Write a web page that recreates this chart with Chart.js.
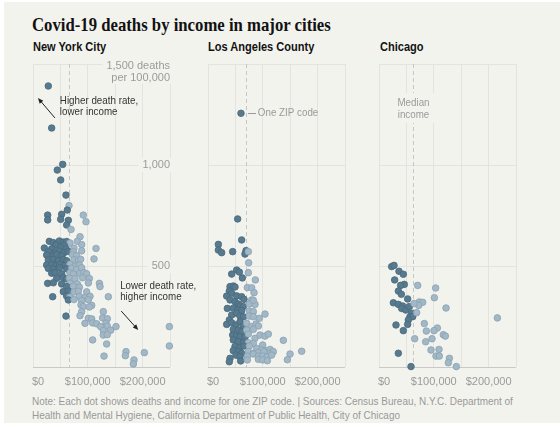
<!DOCTYPE html>
<html lang="en">
<head>
  <meta charset="UTF-8">
  <title>Covid-19 deaths by income in major cities</title>
  <style>
    body {
      margin: 0;
      width: 560px;
      height: 427px;
      overflow: hidden;
      position: relative;
      background: #fff;
      font-family: "Liberation Sans", Arial, sans-serif;
    }
    .card {
      position: absolute;
      left: 4px; top: 2px;
      width: 556px; height: 421px;
      background: #f3f3ee;
    }
    .title {
      position: absolute;
      left: 32px; top: 15px;
      font: bold 19px/19px "Liberation Serif", serif;
      color: #121212;
      white-space: nowrap;
      transform: scaleX(0.88);
      transform-origin: left top;
    }
    .panel-title {
      position: absolute;
      top: 41px;
      font: bold 12px/12px "Liberation Sans", Arial, sans-serif;
      color: #121212;
      white-space: nowrap;
      transform: scaleX(0.92);
      transform-origin: left top;
    }
    .panel {
      position: absolute;
      top: 52px;
    }
    .note {
      position: absolute;
      left: 32px; top: 395px;
      font: 11px/13.5px "Liberation Sans", Arial, sans-serif;
      color: #999;
      white-space: nowrap;
      transform: scaleX(0.905);
      transform-origin: left top;
    }
  </style>
</head>
<body>
  <div class="card"></div>
  <div class="title">Covid-19 deaths by income in major cities</div>
  <div class="panel-title" style="left:33px">New York City</div>
  <div class="panel-title" style="left:208px">Los Angeles County</div>
  <div class="panel-title" style="left:380px">Chicago</div>

  <div class="panel" style="left:9px"><canvas id="nyc" width="206" height="339"></canvas></div>
  <div class="panel" style="left:184px"><canvas id="la" width="206" height="339"></canvas></div>
  <div class="panel" style="left:355px"><canvas id="chi" width="206" height="339"></canvas></div>

  <div class="note">Note: Each dot shows deaths and income for one ZIP code. | Sources: Census Bureau, N.Y.C. Department of<br>Health and Mental Hygiene, California Department of Public Health, City of Chicago</div>

  <script src="https://cdn.jsdelivr.net/npm/chart.js@4.4.1/dist/chart.umd.min.js"></script>
  <script>
    // [median household income in $ thousands, deaths per 100,000]
    const NYC_POINTS = [
      [27.9,1391],[34.1,1183],[54.2,1003],[44.3,975],[50.5,926],[60.2,851],[65.7,799],[62.6,777],
      [26.8,752],[52.3,756],[91.8,752],[26.8,728],[50.5,731],[64.5,726],[96.7,719],
      [61.4,703],[69.4,681],[85.8,645],
      [29.8,622],[37.1,616],[48.1,624],[55.4,618],[61.4,621],[67.5,614],[80.9,622],
      [42.0,604],[57.2,601],[88.8,606],
      [20.7,589],[34.1,585],[50.5,590],[60.2,584],[74.8,588],[115.0,587],
      [28.0,571],[41.4,569],[48.1,574],[56.6,566],[64.5,572],[73.6,570],[88.8,575],
      [24.9,554],[37.1,551],[43.2,556],[52.3,549],[72.4,556],[79.7,552],
      [28.0,530],[37.1,533],[46.2,527],[55.4,532],[61.4,526],[74.8,531],[82.7,528],[87.0,533],[111.3,535],
      [24.9,505],[34.1,508],[42.0,502],[49.3,507],[58.4,503],[67.5,509],[76.6,500],[84.6,505],
      [28.0,488],[37.1,485],[48.1,490],[61.4,486],[70.6,489],[79.7,484],[88.8,491],
      [34.1,464],[40.1,467],[52.3,461],[67.5,466],[73.6,460],[85.8,463],[93.1,467],[97.9,461],
      [43.2,439],[55.4,442],[61.4,436],[66.3,440],[76.6,437],[90.6,442],[102.8,438],
      [26.8,414],[37.1,417],[52.3,411],[67.5,415],[80.9,412],[101.0,416],[121.1,414],
      [61.4,398],[73.6,400],[84.6,395],[122.3,398],
      [55.4,373],[64.5,376],[74.8,371],[82.7,375],[97.9,372],
      [35.9,348],[61.4,351],[67.5,346],[84.6,349],[94.9,345],[104.0,350],[137.5,348],
      [64.5,332],[74.8,334],[88.8,329],[101.0,333],
      [87.6,307],[107.1,305],[91.8,299],[102.8,297],
      [88.8,274],[128.3,274],[60.2,252],[85.8,254],
      [101.0,241],[107.1,238],[127.1,243],[135.6,239],
      [94.9,216],[108.9,218],[116.2,214],[133.2,217],
      [123.5,200],[135.6,202],[151.5,200],[248.8,200],
      [128.3,180],[141.7,182],[128.3,158],[135.6,160],
      [108.9,134],[134.4,114],[248.8,104],
      [169.7,76],[203.2,71],[129.6,54],[168.5,56],[184.3,35],[183.1,15]
    ];
    const LA_POINTS = [
      [60.2,1256],[54.1,733],[61.4,629],[18.9,607],[18.9,579],[24.9,566],[45.0,571],
      [69.4,576],[67.5,559],[73.6,571],[74.2,516],
      [52.3,480],[57.2,470],[43.2,460],[62.7,441],[73.6,467],[86.4,431],
      [40.2,398],[46.2,401],[49.3,396],[71.8,393],[79.7,392],
      [38.9,376],[43.2,365],[34.1,351],[52.3,352],[61.4,348],[65.7,335],[84.0,368],[79.7,332],
      [40.2,332],[49.3,323],[55.4,312],[58.4,302],[64.5,299],[75.4,312],[85.8,310],[82.7,330],
      [35.3,290],[46.2,291],[54.1,282],[61.4,279],[75.4,277],[82.7,274],[104.0,262],
      [43.2,257],[52.3,266],[58.4,252],[64.5,249],[75.4,252],[82.7,249],[93.7,241],
      [38.9,233],[34.1,211],[43.2,219],[51.1,208],[58.4,224],[64.5,203],
      [70.6,216],[79.7,200],[87.6,213],[91.9,203],
      [46.2,186],[55.4,183],[61.4,175],[70.6,183],[82.7,186],
      [45.0,158],[52.3,153],[58.4,150],[67.5,147],[73.6,163],[85.8,142],[94.9,158],[104.0,153],[110.1,163],[137.5,132],
      [46.2,134],[55.4,125],[64.5,120],[73.6,120],[82.7,117],[99.8,109],
      [49.3,101],[58.4,96],[65.7,104],[75.4,104],[88.8,92],[97.9,84],[107.1,81],[113.2,87],
      [46.2,81],[55.4,76],[61.4,68],[73.6,76],[82.7,68],[91.9,71],[102.2,76],[113.2,68],[119.2,76],[149.7,64],[170.9,78],
      [51.1,59],[58.4,51],[71.8,54],[82.7,64],[91.9,54],[99.8,54],[108.3,51],[116.2,59],
      [40.2,43],[38.9,26],[59.6,30],[71.8,35],[91.9,38],[99.8,35],[108.3,31],[144.8,36]
    ];
    const CHI_POINTS = [
      [23.1,497],[27.4,503],[36.5,474],[44.4,459],[28.6,431],[46.2,409],[39.5,404],
      [35.3,376],[40.8,360],[52.3,337],[26.2,318],[35.3,310],[43.2,302],[41.4,290],
      [48.7,282],[55.4,299],[59.6,266],[56.6,249],[61.5,249],[53.5,233],[52.3,211],
      [31.0,208],[44.4,180],[35.3,68],[58.4,2],
      [70.6,404],[103.4,391],[101.0,343],[73.6,322],[79.7,320],[72.4,305],[63.9,314],
      [68.7,269],[122.3,292],[216.0,243],[82.7,215],[106.5,193],[100.4,180],[86.4,178],
      [65.1,140],[96.7,140],[85.2,125],[117.4,160],[121.1,153],[94.9,84],[109.5,87],
      [104.0,54],[110.1,54],[128.4,43],[126.5,21],[141.1,2]
    ];
    const MEDIANS = { nyc: 65.5, la: 70.2, chi: 62.5 };

    const X_TICKS = [0, 100, 200];
    const X_TICK_LABELS = ['$0', '$100,000', '$200,000'];
    const Y_TICKS = [500, 1000];
    const Y_TICK_LABELS = ['500', '1,000'];
    const Y_TOP_LABEL = ['1,500 deaths', 'per 100,000'];

    const BG = '#f3f3ee';
    const DARK = '#587a8e', DARK_EDGE = '#48697d';
    const LIGHT = '#a3b8c6', LIGHT_EDGE = '#88a1b2';
    const FONT = '11px "Liberation Sans", Arial, sans-serif';

    // narrow text, same height
    function narrowText(ctx, text, x, y, align) {
      const k = 0.89;
      ctx.save();
      ctx.translate(x, y);
      ctx.scale(k, 1);
      ctx.textAlign = align || 'left';
      ctx.fillText(text, 0, 0);
      ctx.restore();
    }

    function arrow(ctx, x1, y1, x2, y2) {
      const ang = Math.atan2(y2 - y1, x2 - x1);
      ctx.beginPath();
      ctx.moveTo(x1, y1);
      ctx.lineTo(x2 - 3 * Math.cos(ang), y2 - 3 * Math.sin(ang));
      ctx.stroke();
      ctx.beginPath();
      ctx.moveTo(x2, y2);
      ctx.lineTo(x2 - 6 * Math.cos(ang - 0.4), y2 - 6 * Math.sin(ang - 0.4));
      ctx.lineTo(x2 - 6 * Math.cos(ang + 0.4), y2 - 6 * Math.sin(ang + 0.4));
      ctx.closePath();
      ctx.fill();
    }

    const decor = {
      id: 'decor',
      beforeDatasetsDraw(chart, args, o) {
        const { ctx, chartArea: a, scales: { x, y } } = chart;
        ctx.save();
        ctx.font = FONT;
        ctx.textBaseline = 'middle';

        // median line
        const mx = Math.round(x.getPixelForValue(o.median)) + 0.5;
        ctx.strokeStyle = '#c6c6c4';
        ctx.lineWidth = 1;
        ctx.setLineDash([4, 3]);
        ctx.beginPath();
        ctx.moveTo(mx, a.top);
        ctx.lineTo(mx, a.bottom);
        ctx.stroke();
        ctx.setLineDash([]);

        // x labels
        ctx.fillStyle = '#9a9a9a';
        X_TICKS.forEach((v, i) => {
          const px = x.getPixelForValue(v);
          ctx.textAlign = i === 0 ? 'left' : 'center';
          ctx.fillText(X_TICK_LABELS[i], i === 0 ? px - 1 : px, a.bottom + 15);
        });

        // y labels (first panel only)
        if (o.yLabels) {
          ctx.textAlign = 'right';
          Y_TICKS.forEach((v, i) => {
            const py = y.getPixelForValue(v);
            const w = ctx.measureText(Y_TICK_LABELS[i]).width;
            ctx.fillStyle = BG;
            ctx.fillRect(a.right - w - 4, py - 7, w + 6, 14);
            ctx.fillStyle = '#9a9a9a';
            ctx.fillText(Y_TICK_LABELS[i], a.right, py);
          });
          const top = y.getPixelForValue(1500);
          const w = Math.max(...Y_TOP_LABEL.map(t => ctx.measureText(t).width));
          ctx.fillStyle = BG;
          ctx.fillRect(a.right - w - 4, top - 6, w + 6, 26);
          ctx.fillStyle = '#9a9a9a';
          Y_TOP_LABEL.forEach((t, i) => ctx.fillText(t, a.right, top + 2 + i * 12));
        }

        // median label box
        if (o.medianLabel) {
          const y1 = y.getPixelForValue(o.medianLabel.y);
          ctx.fillStyle = BG;
          ctx.fillRect(mx - 26, y1 - 10, 52, 30);
          ctx.fillStyle = '#9a9a9a';
          o.medianLabel.lines.forEach((t, i) => narrowText(ctx, t, mx, y1 + i * 12, 'center'));
        }

        // notes
        (o.notes || []).forEach(n => {
          ctx.fillStyle = n.color;
          narrowText(ctx, n.text, x.getPixelForValue(n.x), y.getPixelForValue(n.y));
        });

        // arrows
        ctx.strokeStyle = '#222';
        ctx.fillStyle = '#222';
        ctx.lineWidth = 1;
        (o.arrows || []).forEach(r => {
          arrow(ctx, x.getPixelForValue(r[0]), y.getPixelForValue(r[1]),
                     x.getPixelForValue(r[2]), y.getPixelForValue(r[3]));
        });

        // short leader line
        if (o.leader) {
          const l = o.leader;
          const py = Math.round(y.getPixelForValue(l[1])) + 0.5;
          ctx.strokeStyle = '#999';
          ctx.beginPath();
          ctx.moveTo(x.getPixelForValue(l[0]), py);
          ctx.lineTo(x.getPixelForValue(l[2]), py);
          ctx.stroke();
        }
        ctx.restore();
      }
    };

    function makePanel(id, points, median, extra) {
      new Chart(document.getElementById(id), {
        type: 'scatter',
        data: {
          datasets: [{
            data: points.map(p => ({ x: p[0], y: p[1] })),
            pointRadius: 3.3,
            pointBorderWidth: 0.8,
            pointBackgroundColor: c => (c.raw && c.raw.x < median) ? DARK : LIGHT,
            pointBorderColor: c => (c.raw && c.raw.x < median) ? DARK_EDGE : LIGHT_EDGE,
            clip: false
          }]
        },
        plugins: [decor],
        options: {
          responsive: false,
          animation: false,
          events: [],
          layout: { padding: { left: 24, right: 45, top: 12, bottom: 24 } },
          plugins: {
            legend: { display: false },
            tooltip: { enabled: false },
            decor: Object.assign({ median }, extra)
          },
          scales: {
            x: {
              type: 'linear', min: 0, max: 250,
              ticks: { display: false, stepSize: 50 },
              grid: { color: '#e3e3e0', drawTicks: false },
              border: { display: false }
            },
            y: {
              min: 0, max: 1500,
              ticks: { display: false, stepSize: 500 },
              grid: {
                color: c => c.tick && c.tick.value === 0 ? '#c9c9c7' : '#e3e3e0',
                drawTicks: false
              },
              border: { display: false }
            }
          }
        }
      });
    }

    makePanel('nyc', NYC_POINTS, MEDIANS.nyc, {
      yLabels: true,
      notes: [
        { text: 'Higher death rate,', x: 49, y: 1317, color: '#333' },
        { text: 'lower income', x: 49, y: 1262, color: '#333' },
        { text: 'Lower death rate,', x: 159, y: 401, color: '#333' },
        { text: 'higher income', x: 159, y: 347, color: '#333' }
      ],
      arrows: [[40, 1233, 9, 1332], [161, 277, 192, 183]]
    });
    makePanel('la', LA_POINTS, MEDIANS.la, {
      notes: [{ text: 'One ZIP code', x: 91, y: 1257, color: '#999' }],
      leader: [73, 1257, 87.5]
    });
    makePanel('chi', CHI_POINTS, MEDIANS.chi, {
      medianLabel: { y: 1307, lines: ['Median', 'income'] }
    });
  </script>
</body>
</html>
